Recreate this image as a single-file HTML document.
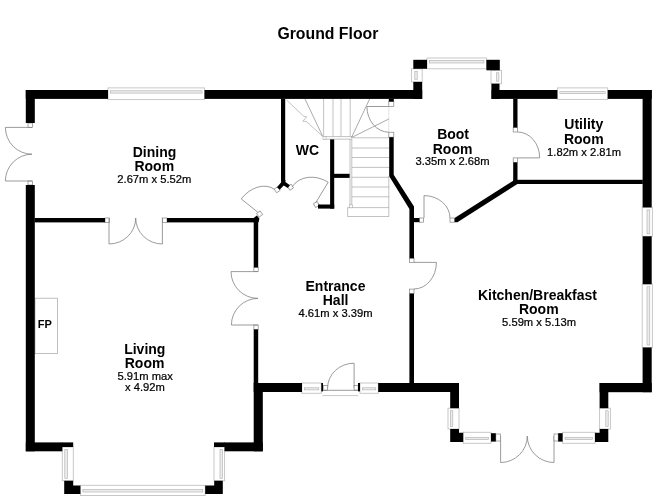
<!DOCTYPE html>
<html><head><meta charset="utf-8">
<style>
html,body{margin:0;padding:0;background:#fff;}
body{width:658px;height:501px;overflow:hidden;position:relative;font-family:"Liberation Sans",sans-serif;}
svg{position:absolute;left:0;top:0;will-change:transform;}
text{font-family:"Liberation Sans",sans-serif;text-anchor:middle;}
.b{font-weight:bold;fill:#000;}
.r{fill:#000;stroke:#000;stroke-width:0.22px;}
</style></head><body>
<svg width="658" height="501" viewBox="0 0 658 501">
<rect width="658" height="501" fill="#fff"/>
<g>
<rect x="108" y="87.9" width="96.5" height="11.7" fill="#fff" stroke="#c2c2c2" stroke-width="0.9"/>
<rect x="110.5" y="90.8" width="91.5" height="2.3" fill="#ececec" stroke="#adadad" stroke-width="0.6"/>
<rect x="557.4" y="87.9" width="50.3" height="11.5" fill="#fff" stroke="#c2c2c2" stroke-width="0.9"/>
<rect x="559.9" y="91.7" width="45.3" height="1.9" fill="#ececec" stroke="#adadad" stroke-width="0.6"/>
<rect x="427" y="58" width="59.5" height="10.8" fill="#fff" stroke="#c2c2c2" stroke-width="0.9"/>
<rect x="429.5" y="60.6" width="54.5" height="2.4" fill="#ececec" stroke="#adadad" stroke-width="0.6"/>
<rect x="411.4" y="68.8" width="10.8" height="13.1" fill="#fff" stroke="#c2c2c2" stroke-width="0.9"/>
<rect x="414.8" y="71.3" width="2.4" height="8.1" fill="#ececec" stroke="#adadad" stroke-width="0.6"/>
<rect x="491" y="70.3" width="10.5" height="13.4" fill="#fff" stroke="#c2c2c2" stroke-width="0.9"/>
<rect x="496.6" y="72.8" width="2.3" height="8.4" fill="#ececec" stroke="#adadad" stroke-width="0.6"/>
<rect x="642.2" y="207.4" width="10.2" height="28.9" fill="#fff" stroke="#c2c2c2" stroke-width="0.9"/>
<rect x="647" y="209.9" width="2.8" height="23.9" fill="#ececec" stroke="#adadad" stroke-width="0.6"/>
<rect x="642.2" y="284.2" width="10.2" height="63.3" fill="#fff" stroke="#c2c2c2" stroke-width="0.9"/>
<rect x="647" y="286.7" width="2.8" height="58.3" fill="#ececec" stroke="#adadad" stroke-width="0.6"/>
<rect x="62.3" y="447" width="11" height="33.8" fill="#fff" stroke="#c2c2c2" stroke-width="0.9"/>
<rect x="64.8" y="449.5" width="2.6" height="28.8" fill="#ececec" stroke="#adadad" stroke-width="0.6"/>
<rect x="214" y="447" width="10.6" height="33.8" fill="#fff" stroke="#c2c2c2" stroke-width="0.9"/>
<rect x="220" y="449.5" width="2.4" height="28.8" fill="#ececec" stroke="#adadad" stroke-width="0.6"/>
<rect x="80.4" y="485.3" width="124.8" height="10.2" fill="#fff" stroke="#c2c2c2" stroke-width="0.9"/>
<rect x="82.9" y="489.5" width="119.8" height="2.5" fill="#ececec" stroke="#adadad" stroke-width="0.6"/>
<rect x="301.8" y="383" width="19.5" height="10.3" fill="#fff" stroke="#c2c2c2" stroke-width="0.9"/>
<rect x="304.3" y="387.8" width="14.5" height="2.1" fill="#ececec" stroke="#adadad" stroke-width="0.6"/>
<rect x="360" y="383" width="18.3" height="10.3" fill="#fff" stroke="#c2c2c2" stroke-width="0.9"/>
<rect x="362.5" y="387.8" width="13.3" height="2.1" fill="#ececec" stroke="#adadad" stroke-width="0.6"/>
<rect x="448" y="408.2" width="11" height="20.8" fill="#fff" stroke="#c2c2c2" stroke-width="0.9"/>
<rect x="450.4" y="410.7" width="2.4" height="15.8" fill="#ececec" stroke="#adadad" stroke-width="0.6"/>
<rect x="599.6" y="408.2" width="10.8" height="20.8" fill="#fff" stroke="#c2c2c2" stroke-width="0.9"/>
<rect x="605.8" y="410.7" width="2.4" height="15.8" fill="#ececec" stroke="#adadad" stroke-width="0.6"/>
<rect x="463.2" y="432.3" width="27.8" height="11" fill="#fff" stroke="#c2c2c2" stroke-width="0.9"/>
<rect x="465.7" y="437.3" width="22.8" height="2.4" fill="#ececec" stroke="#adadad" stroke-width="0.6"/>
<rect x="562.6" y="432.3" width="32.4" height="11" fill="#fff" stroke="#c2c2c2" stroke-width="0.9"/>
<rect x="565.1" y="437.3" width="27.4" height="2.4" fill="#ececec" stroke="#adadad" stroke-width="0.6"/>
<rect x="28" y="123" width="4.4" height="4.4" fill="#fff" stroke="#828282" stroke-width="0.7"/>
<rect x="28" y="181" width="4.4" height="4" fill="#fff" stroke="#828282" stroke-width="0.7"/>
<path d="M32 127.4L5.4 127.4A26.80 26.60 90.0 0 0 32 154.2" fill="none" stroke="#828282" stroke-width="0.8"/>
<path d="M32 181L5.4 181A26.80 26.60 -90.0 0 1 32 154.2" fill="none" stroke="#828282" stroke-width="0.8"/>
<rect x="105" y="218" width="4.4" height="4.4" fill="#fff" stroke="#828282" stroke-width="0.7"/>
<rect x="162.4" y="218" width="4.6" height="4.4" fill="#fff" stroke="#828282" stroke-width="0.7"/>
<path d="M109 218L109 244A26.70 26.00 0.0 0 0 135.7 218" fill="none" stroke="#828282" stroke-width="0.8"/>
<path d="M162.4 218L162.4 244A26.70 26.00 180.0 0 1 135.7 218" fill="none" stroke="#828282" stroke-width="0.8"/>
<rect x="253.9" y="267.4" width="4.3" height="4.2" fill="#fff" stroke="#828282" stroke-width="0.7"/>
<rect x="253.9" y="325" width="4.3" height="4.4" fill="#fff" stroke="#828282" stroke-width="0.7"/>
<path d="M258 271.6L231 271.6A26.80 27.00 90.0 0 0 258 298.4" fill="none" stroke="#828282" stroke-width="0.8"/>
<path d="M258 325L231.4 325A26.60 26.60 -90.0 0 1 258 298.4" fill="none" stroke="#828282" stroke-width="0.8"/>
<rect x="409.5" y="258.2" width="4.5" height="4.3" fill="#fff" stroke="#828282" stroke-width="0.7"/>
<rect x="409.5" y="289.1" width="4.5" height="4.5" fill="#fff" stroke="#828282" stroke-width="0.7"/>
<path d="M414 262.4L436.4 262.4A26.60 22.40 90.0 0 1 414 289" fill="none" stroke="#828282" stroke-width="0.8"/>
<rect x="419.4" y="218" width="4" height="4.2" fill="#fff" stroke="#828282" stroke-width="0.7"/>
<rect x="450" y="218" width="4.6" height="4.2" fill="#fff" stroke="#828282" stroke-width="0.7"/>
<path d="M424 218L424 195.6A26.00 22.40 0.0 0 1 450 218" fill="none" stroke="#828282" stroke-width="0.8"/>
<rect x="513.2" y="127.5" width="4.4" height="4.5" fill="#fff" stroke="#828282" stroke-width="0.7"/>
<rect x="513.2" y="157.9" width="4.4" height="4.5" fill="#fff" stroke="#828282" stroke-width="0.7"/>
<path d="M517.6 157.9L539.7 157.9A25.90 22.10 -90.0 0 0 517.6 132" fill="none" stroke="#828282" stroke-width="0.8"/>
<rect x="388.8" y="101.6" width="5" height="4.9" fill="#fff" stroke="#828282" stroke-width="0.7"/>
<rect x="388.8" y="132.2" width="5" height="5" fill="#fff" stroke="#828282" stroke-width="0.7"/>
<path d="M388.8 106.5L366.9 106.5A25.70 21.90 90.0 0 0 388.8 132.2" fill="none" stroke="#828282" stroke-width="0.8"/>
<path d="M388.8 107V132" fill="none" stroke="#d0d0d0" stroke-width="0.6"/>
<rect x="-2.2" y="-2.2" width="4.4" height="4.4" transform="translate(277.2 189.7) rotate(-36)" fill="#fff" stroke="#828282" stroke-width="0.7"/>
<rect x="-2.2" y="-2.2" width="4.4" height="4.4" transform="translate(259.6 214) rotate(-36)" fill="#fff" stroke="#828282" stroke-width="0.7"/>
<path d="M257.9 212.3L241.2 198.9A28.34 21.41 -53.9 0 1 274.6 189.4" fill="none" stroke="#828282" stroke-width="0.8"/>
<rect x="-2.2" y="-2.2" width="4.4" height="4.4" transform="translate(290.5 187.2) rotate(-33)" fill="#fff" stroke="#828282" stroke-width="0.7"/>
<rect x="-2.2" y="-2.2" width="4.4" height="4.4" transform="translate(316.4 204.5) rotate(-30)" fill="#fff" stroke="#828282" stroke-width="0.7"/>
<path d="M315.8 202.6L328.2 182.2A28.51 23.87 -145.9 0 0 292.2 186.6" fill="none" stroke="#828282" stroke-width="0.8"/>
<path d="M354.1 388L354.1 363.2A26.50 24.80 180.0 0 0 327.6 388" fill="none" stroke="#828282" stroke-width="0.8"/>
<rect x="323.2" y="385.6" width="4.4" height="4.6" fill="#fff" stroke="#828282" stroke-width="0.7"/>
<rect x="354.1" y="385.6" width="4.1" height="4.6" fill="#fff" stroke="#828282" stroke-width="0.7"/>
<path d="M323 390.3H358.3" fill="none" stroke="#828282" stroke-width="0.8"/>
<path d="M322.4 395.6H358.2" fill="none" stroke="#b8b8b8" stroke-width="0.8"/>
<path d="M500.6 436L500.6 462.5A26.70 26.50 0.0 0 0 527.3 436" fill="none" stroke="#828282" stroke-width="0.8"/>
<path d="M554 436L554 462.5A26.70 26.50 180.0 0 1 527.3 436" fill="none" stroke="#828282" stroke-width="0.8"/>
<rect x="495.8" y="434" width="4.8" height="7" fill="#fff" stroke="#828282" stroke-width="0.7"/>
<rect x="554" y="434" width="4.2" height="7" fill="#fff" stroke="#828282" stroke-width="0.7"/>
<path d="M323.6 99V136.6M333 99V136.6M341 99V136.6M350.2 99V136.6M323 136.6H352M323 139.2H352M286.5 100L304 116.5L306.8 116.8L302.8 121.2L306.5 121.5L322.6 136.4M350 139V205.4M351.8 139V205.4M351.8 137.8H389.3M351.8 148H389.3M351.8 157.5H389.3M351.8 167.4H389.3M351.8 177.3H389.3M351.8 187H389.3M351.8 196.8H389.3M347.6 207.6H389M347.6 216.5H389M347.6 207.6V216.5M388.8 176V216.5" fill="none" stroke="#a8a8a8" stroke-width="0.7"/>
<path d="M322.6 136.2L305 99M351.5 137.6L369.6 99M351.5 137.6L388.8 119" fill="none" stroke="#858585" stroke-width="0.7"/>
<rect x="323" y="136.4" width="3" height="3" fill="#fff" stroke="#a8a8a8" stroke-width="0.6"/>
<rect x="349.4" y="204.8" width="3" height="3" fill="#fff" stroke="#a8a8a8" stroke-width="0.6"/>
<rect x="35" y="298.2" width="22.5" height="55.4" fill="#fff" stroke="#b0b0b0" stroke-width="0.8"/>
</g>
<g fill="#000" stroke="none">
<rect x="25.8" y="90" width="82.2" height="8.9"/>
<rect x="204.5" y="90" width="217.7" height="8.9"/>
<rect x="25.8" y="90" width="9" height="33"/>
<rect x="25.8" y="185" width="9" height="266.3"/>
<rect x="25.8" y="442.4" width="36.5" height="8.9"/>
<rect x="62" y="442.4" width="11.2" height="4.6"/>
<path d="M64.2 480.8L73.2 480.8L73.2 485.6L80.4 485.6L80.4 493.9L64.2 493.9Z"/>
<path d="M222.8 480.8L214.2 480.8L214.2 485.6L205.2 485.6L205.2 493.9L222.8 493.9Z"/>
<rect x="214" y="442.4" width="11" height="4.6"/>
<rect x="224.5" y="442.4" width="38.3" height="8.9"/>
<rect x="253.7" y="383" width="9.1" height="68.3"/>
<rect x="253.7" y="383" width="48.3" height="9"/>
<rect x="321.3" y="383" width="1.7" height="8.4"/>
<rect x="358" y="383" width="2" height="8.4"/>
<rect x="378.2" y="383" width="80.8" height="9"/>
<rect x="450.2" y="383" width="8.8" height="25.2"/>
<path d="M450.2 429L459 429L459 432.8L463.2 432.8L463.2 442L450.2 442Z"/>
<rect x="491" y="433.2" width="4.8" height="8.4"/>
<rect x="558.2" y="433.2" width="4.4" height="8.4"/>
<path d="M608.3 429L599.6 429L599.6 432.8L595 432.8L595 442L608.3 442Z"/>
<rect x="599.6" y="383" width="8.7" height="25.2"/>
<rect x="599.6" y="383" width="52.1" height="9.2"/>
<rect x="642.6" y="90" width="9.1" height="117.4"/>
<rect x="642.6" y="236.3" width="9.1" height="47.9"/>
<rect x="642.6" y="347.5" width="9.1" height="44.7"/>
<rect x="491.6" y="90" width="65.8" height="8.9"/>
<rect x="607.7" y="90" width="44" height="8.9"/>
<rect x="413.3" y="59.8" width="13.7" height="9"/>
<rect x="413.3" y="81.9" width="8.9" height="17"/>
<rect x="486.4" y="59.8" width="13.4" height="10.5"/>
<rect x="491.4" y="83.7" width="8.1" height="15.2"/>
<rect x="281" y="98.7" width="4.2" height="82.8"/>
<path d="M281.2 180L285.4 180L285.4 182L289.9 185.2L287.8 188L283.7 185.6L279.6 189.7L277 187.2L281.2 182.2Z"/>
<rect x="330.1" y="139.4" width="4.1" height="69.2"/>
<rect x="318" y="204.5" width="16.2" height="4.1"/>
<rect x="334" y="173.8" width="15.6" height="4.1"/>
<rect x="389.2" y="137.2" width="4.5" height="39"/>
<rect x="388.8" y="98.8" width="5" height="2.8"/>
<path d="M389.2 176.2L393.7 174.8L414 206.4L414 258.2L409.4 258.2L409.4 209Z"/>
<rect x="409.4" y="293.6" width="4.6" height="90.4"/>
<rect x="413.8" y="218" width="5.6" height="4.2"/>
<path d="M454.6 218L513.6 180.4L517.4 184L457.4 222.2L454.6 222.2Z"/>
<rect x="513.2" y="98.7" width="4.3" height="28.8"/>
<rect x="513.2" y="162.4" width="4.3" height="21.6"/>
<rect x="513.2" y="179.8" width="129.6" height="4.2"/>
<rect x="34.6" y="218" width="70.4" height="4.4"/>
<rect x="167" y="218" width="87.5" height="4.4"/>
<path d="M253.7 218L253.7 267.4L258.2 267.4L258.2 218Z"/>
<path d="M253.7 329.4L253.7 383.2L258.2 383.2L258.2 329.4Z"/>
<path d="M253.7 218L256.8 215.4L259.4 218.6L258.6 222.3L253.7 222.3Z"/>
</g>
<g>
<text x="327.9" y="38.5" class="b" font-size="15.8">Ground Floor</text>
<text x="154.5" y="157.2" class="b" font-size="14">Dining</text>
<text x="154.3" y="171" class="b" font-size="14">Room</text>
<text x="154.3" y="182.7" class="r" font-size="11.2">2.67m x 5.52m</text>
<text x="307.4" y="154.9" class="b" font-size="14">WC</text>
<text x="453.1" y="138.9" class="b" font-size="14">Boot</text>
<text x="452.6" y="153.5" class="b" font-size="14">Room</text>
<text x="452.5" y="165.2" class="r" font-size="11.2">3.35m x 2.68m</text>
<text x="583.8" y="129.2" class="b" font-size="14">Utility</text>
<text x="583.8" y="143.8" class="b" font-size="14">Room</text>
<text x="584.1" y="155.6" class="r" font-size="11.2">1.82m x 2.81m</text>
<text x="335.5" y="290.6" class="b" font-size="14">Entrance</text>
<text x="335.6" y="304.8" class="b" font-size="14">Hall</text>
<text x="335.5" y="316.8" class="r" font-size="11.2">4.61m x 3.39m</text>
<text x="537.4" y="299.6" class="b" font-size="14">Kitchen/Breakfast</text>
<text x="538.8" y="313.8" class="b" font-size="14">Room</text>
<text x="539.1" y="326.3" class="r" font-size="11.2">5.59m x 5.13m</text>
<text x="144.8" y="353.9" class="b" font-size="14">Living</text>
<text x="144.6" y="368.1" class="b" font-size="14">Room</text>
<text x="145.2" y="380.2" class="r" font-size="11.2">5.91m max</text>
<text x="144.9" y="391" class="r" font-size="11.2">x 4.92m</text>
<text x="44.8" y="327.6" class="b" font-size="11">FP</text>
</g>
</svg>
</body></html>
